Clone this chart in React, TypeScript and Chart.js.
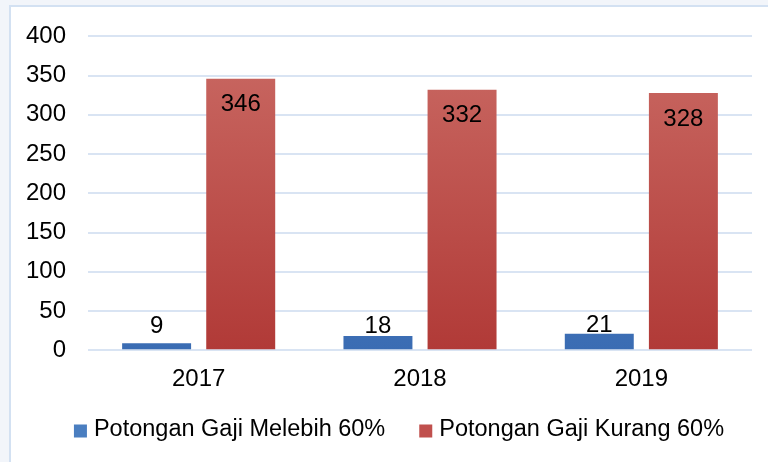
import React, { useEffect, useRef } from "react";
import { Chart, registerables } from "chart.js";

Chart.register(...registerables);

const categories = ["2017", "2018", "2019"];
const seriesNames = ["Potongan Gaji Melebih 60%", "Potongan Gaji Kurang 60%"];
const melebihValues = [9, 18, 21];
const kurangValues = [346, 332, 328];
const yTicks = [0, 50, 100, 150, 200, 250, 300, 350, 400];
const legendColors = ["#4a7ec0", "#c0504d"];

const FONT = "'Liberation Sans', Arial, sans-serif";
const FS = 24;
const LEGEND_FS = 23.5;

function makeGradient(ctx: any, area: any, top: string, bottom: string) {
  const g = ctx.createLinearGradient(0, area.top, 0, area.bottom);
  g.addColorStop(0, top);
  g.addColorStop(1, bottom);
  return g;
}

const labelPlugin = {
  id: "barLabels",
  afterDatasetsDraw(chart: any) {
    const ctx = chart.ctx;
    const yScale = chart.scales.y;
    ctx.save();
    ctx.font = `${FS}px ${FONT}`;
    ctx.fillStyle = "#000";
    ctx.textAlign = "center";
    ctx.textBaseline = "middle";
    chart.data.datasets.forEach((ds: any, di: number) => {
      const meta = chart.getDatasetMeta(di);
      meta.data.forEach((bar: any, i: number) => {
        const v = ds.data[i];
        let y;
        if (di === 0) {
          y = Math.min(bar.y - 8, yScale.getPixelForValue(30));
        } else {
          y = bar.y + 26;
        }
        ctx.fillText(String(v), bar.x, y);
      });
    });
    ctx.restore();
  },
};

const legendPlugin = {
  id: "customLegend",
  afterDraw(chart: any) {
    const ctx = chart.ctx;
    ctx.save();
    ctx.font = `${LEGEND_FS}px ${FONT}`;
    ctx.textBaseline = "middle";
    ctx.textAlign = "left";
    const box = 13;
    const gap = 7;
    const itemGap = 34;
    const items = chart.data.datasets.map((ds: any, i: number) => ({
      text: ds.label,
      color: legendColors[i],
      w: ctx.measureText(ds.label).width,
    }));
    const total =
      items.reduce((s: number, it: any) => s + box + gap + it.w, 0) + itemGap * (items.length - 1);
    let x = chart.width / 2 + 15 - total / 2;
    const cy = 430;
    items.forEach((it: any) => {
      ctx.fillStyle = it.color;
      ctx.fillRect(x, cy - box / 2 + 1, box, box);
      x += box + gap;
      ctx.fillStyle = "#000";
      ctx.fillText(it.text, x, cy);
      x += it.w + itemGap;
    });
    ctx.restore();
  },
};

export default function App() {
  const ref = useRef<HTMLCanvasElement>(null);
  useEffect(() => {
    if (!ref.current) return;
    const chart = new Chart(ref.current, {
      type: "bar",
      data: {
        labels: categories,
        datasets: [
          {
            label: seriesNames[0],
            data: melebihValues,
            backgroundColor: (c: any) => {
              const a = c.chart.chartArea;
              if (!a) return "#4a7ec0";
              return makeGradient(c.chart.ctx, a, "#5a8ccc", "#3a6cb3");
            },
            categoryPercentage: 0.76,
            barPercentage: 0.82,
          },
          {
            label: seriesNames[1],
            data: kurangValues,
            backgroundColor: (c: any) => {
              const a = c.chart.chartArea;
              if (!a) return "#b83c3b";
              return makeGradient(c.chart.ctx, a, "#ca6a64", "#b13a37");
            },
            categoryPercentage: 0.76,
            barPercentage: 0.82,
          },
        ],
      },
      options: {
        responsive: false,
        animation: false,
        layout: { padding: { left: 0, right: 16, top: 23, bottom: 61 } },
        scales: {
          x: {
            grid: { display: false },
            border: { display: false },
            ticks: { color: "#000", font: { family: FONT, size: FS }, padding: 7 },
          },
          y: {
            min: 0,
            max: 400,
            afterBuildTicks: (s: any) => {
              s.ticks = yTicks.map((v) => ({ value: v }));
            },
            afterFit: (s: any) => {
              s.width = 88;
            },
            grid: { color: "#d9e4f3", lineWidth: 2, drawTicks: false },
            border: { display: false },
            ticks: { color: "#000", font: { family: FONT, size: FS }, padding: 22 },
          },
        },
        plugins: {
          legend: { display: false },
          tooltip: { enabled: false },
        },
      },
      plugins: [labelPlugin, legendPlugin],
    });
    return () => chart.destroy();
  }, []);

  return (
    <div
      style={{
        position: "fixed",
        left: 0,
        top: 0,
        width: 768,
        height: 462,
        background: "#f2f5fa",
        overflow: "hidden",
      }}
    >
      <div
        style={{
          position: "absolute",
          left: 9,
          top: 5,
          width: 780,
          height: 480,
          background: "#fff",
          border: "2px solid #d3e1f2",
        }}
      />
      <canvas
        ref={ref}
        width={768}
        height={462}
        style={{ position: "absolute", left: 0, top: 0, width: 768, height: 462 }}
      />
    </div>
  );
}
